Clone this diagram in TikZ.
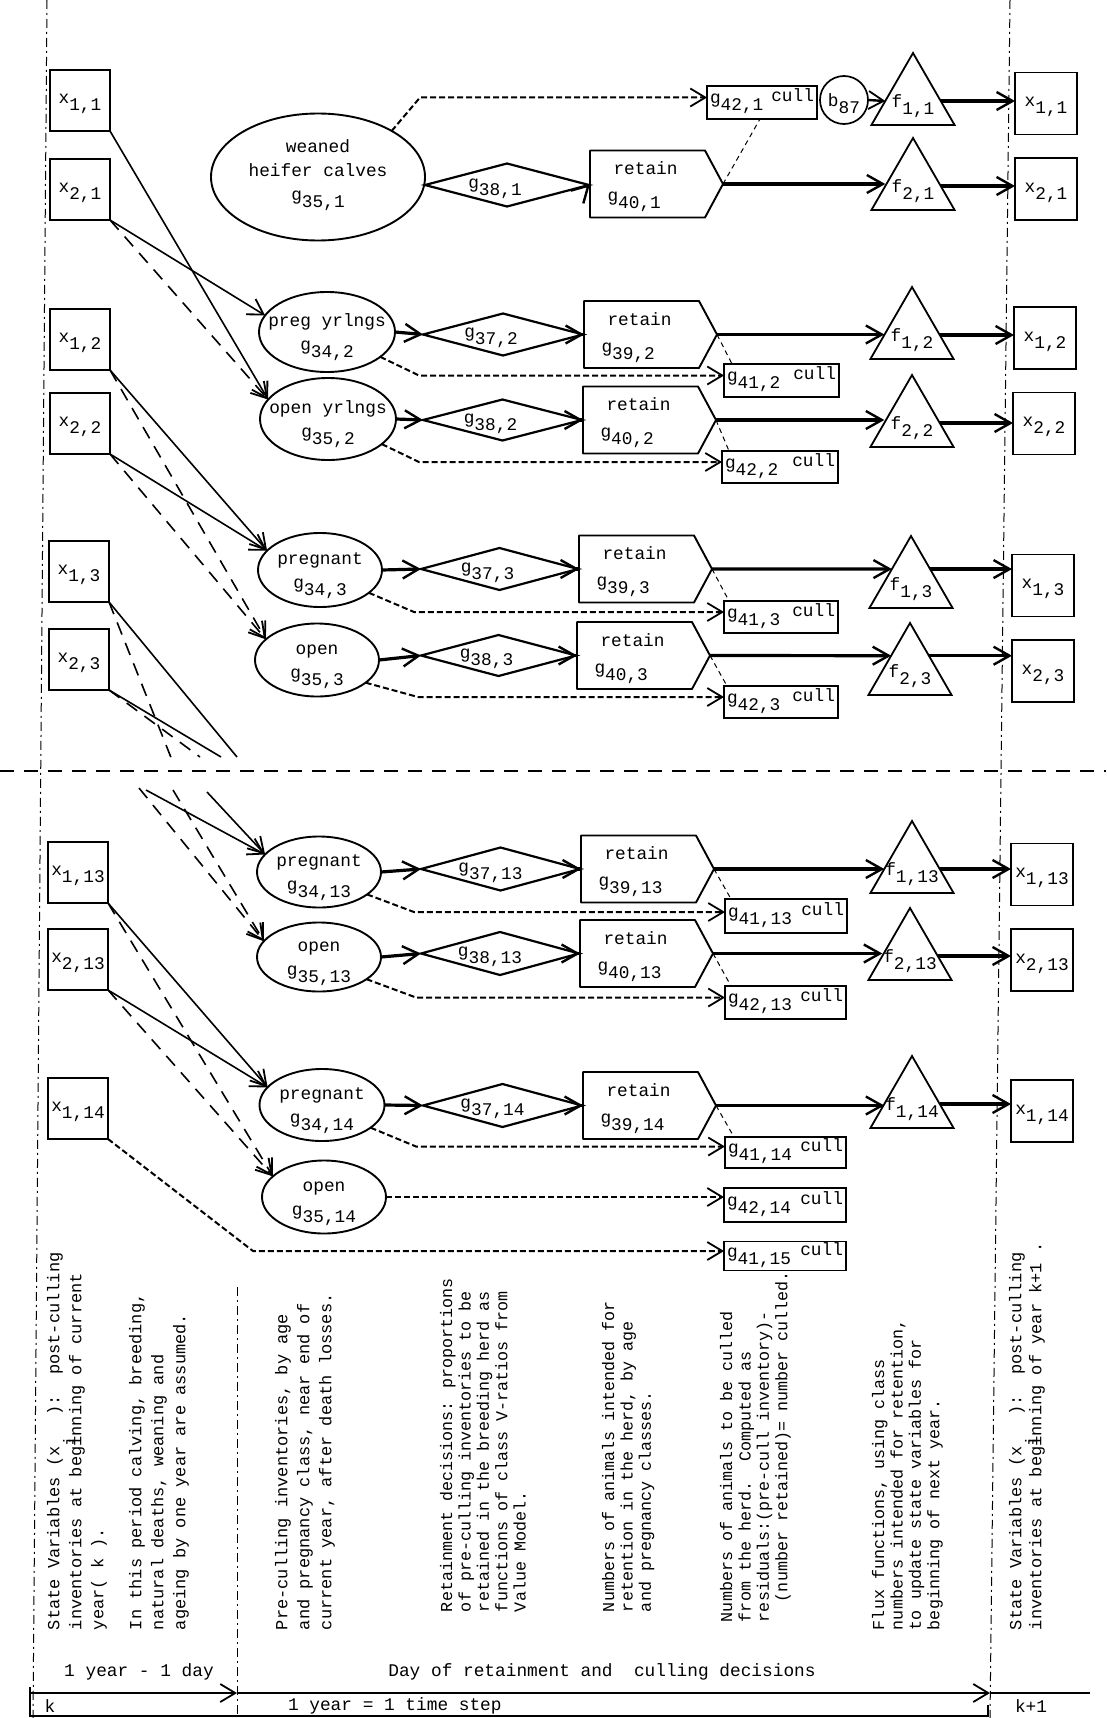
\documentclass[tikz,border=0pt]{standalone}
\usepackage{fontspec}
\setmainfont{Liberation Mono}
\usetikzlibrary{arrows.meta,shapes.geometric,calc}
\newcommand\Lw[1]{\raisebox{-7pt}{#1}}
\newcommand\Cen[2][0pt]{\smash{\makebox[0pt]{\raisebox{#1}{\begin{tabular}{@{}c@{}}#2\end{tabular}}}}}
\newcommand\RetN[4]{%
  \node[ret] (#1) at (#2,#3) {\rule{0pt}{19pt}\hspace*{6pt}retain\\g\Lw{#4}};
  \coordinate (#1P) at ($(#1.east)+(18,0)$);
  \draw[retline] (#1.north west) -- (#1.north east) -- (#1P) -- (#1.south east) -- (#1.south west) -- cycle;}
\begin{document}
\begin{tikzpicture}[x=1pt,y=-1pt,
  font=\fontsize{17.8}{24}\selectfont,
  every node/.style={inner sep=0pt,outer sep=0pt},
  tipb/.style={-{Straight Barb[length=15pt,width=18pt,line width=1.8pt]}},
  xbox/.style={draw,line width=1.7pt,minimum width=60pt,minimum height=61pt},
  ell/.style={ellipse,draw,line width=1.9pt},
  dia/.style={diamond,draw,line width=2.2pt},
  tri/.style={regular polygon,regular polygon sides=3,draw,line width=1.8pt,minimum size=96pt},
  cullb/.style={draw,line width=1.7pt,minimum height=33pt},
  ret/.style={rectangle,minimum width=115pt,minimum height=67pt,text width=80pt,inner xsep=17.5pt,align=left,font=\fontsize{17.8}{27}\selectfont},
  retline/.style={line width=1.9pt,line join=round},
  thk/.style={-{Straight Barb[length=16pt,width=18pt,line width=2.4pt]},line width=3.2pt},
  sarr/.style={tipb,line width=1.6pt},
  sline/.style={line width=1.6pt},
  darr/.style={tipb,line width=1.6pt,dash pattern=on 13pt off 9pt},
  dline/.style={line width=1.6pt,dash pattern=on 13pt off 9pt},
  dcull/.style={tipb,line width=2pt,dash pattern=on 6pt off 3pt},
  tdash/.style={line width=1pt,dash pattern=on 5pt off 4pt},
  vline/.style={line width=1pt,dash pattern=on 9pt off 4pt on 2pt off 4pt},
  hsep/.style={line width=2pt,dash pattern=on 14pt off 10pt},
  vtext/.style={rotate=90,anchor=north west,align=left,font=\fontsize{17}{22}\selectfont},
  vtextb/.style={rotate=90,anchor=north west,align=left,font=\fontsize{16.7}{18.4}\selectfont},
]
\useasboundingbox (0,0) rectangle (1106,1718);
% frame lines
\coordinate (vl1) at (47,0); \coordinate (vl2) at (33,1718);
\coordinate (vr1) at (1010,0); \coordinate (vr2) at (990,1718);
\coordinate (vm1) at (237,1287); \coordinate (vm2) at (237,1716);
\coordinate (hs1) at (0,771); \coordinate (hs2) at (1106,771);
\draw[vline] (vl1) -- (vl2);
\draw[vline] (vr1) -- (vr2);
\draw[vline] (vm1) -- (vm2);
\draw[hsep] (hs1) -- (hs2);

% left state boxes
\node[xbox] (xL11) at (80,100.5) {\Cen[-4pt]{x\Lw{1,1}}};
\node[xbox] (xL21) at (80,189.5) {\Cen[-4pt]{x\Lw{2,1}}};
\node[xbox] (xL12) at (80,339.5) {\Cen[-4pt]{x\Lw{1,2}}};
\node[xbox] (xL22) at (80,423.5) {\Cen[-4pt]{x\Lw{2,2}}};
\node[xbox] (xL13) at (79,571.5) {\Cen[-4pt]{x\Lw{1,3}}};
\node[xbox] (xL23) at (79,659.5) {\Cen[-4pt]{x\Lw{2,3}}};
\node[xbox] (xL113) at (78,872.5) {\Cen[-4pt]{x\Lw{1,13}}};
\node[xbox] (xL213) at (78,959.5) {\Cen[-4pt]{x\Lw{2,13}}};
\node[xbox] (xL114) at (78,1108.5) {\Cen[-4pt]{x\Lw{1,14}}};

% right state boxes
\node[xbox,minimum width=62pt,minimum height=62pt] (xR11) at (1046,103.5) {\Cen[-4pt]{x\Lw{1,1}}};
\node[xbox,minimum width=62pt,minimum height=62pt] (xR21) at (1046,189) {\Cen[-4pt]{x\Lw{2,1}}};
\node[xbox,minimum width=62pt,minimum height=62pt] (xR12) at (1045,338) {\Cen[-4pt]{x\Lw{1,2}}};
\node[xbox,minimum width=62pt,minimum height=62pt] (xR22) at (1044,423.5) {\Cen[-4pt]{x\Lw{2,2}}};
\node[xbox,minimum width=62pt,minimum height=62pt] (xR13) at (1043,585.5) {\Cen[-4pt]{x\Lw{1,3}}};
\node[xbox,minimum width=62pt,minimum height=62pt] (xR23) at (1043,671) {\Cen[-4pt]{x\Lw{2,3}}};
\node[xbox,minimum width=62pt,minimum height=62pt] (xR113) at (1042,874.5) {\Cen[-4pt]{x\Lw{1,13}}};
\node[xbox,minimum width=62pt,minimum height=62pt] (xR213) at (1042,960) {\Cen[-4pt]{x\Lw{2,13}}};
\node[xbox,minimum width=62pt,minimum height=62pt] (xR114) at (1042,1111) {\Cen[-4pt]{x\Lw{1,14}}};

% ellipses
\node[ell,minimum width=214pt,minimum height=127pt] (wh) at (318,177) {\Cen{weaned\\heifer calves\\g\Lw{35,1}}};
\node[ell,minimum width=136pt,minimum height=80pt] (py) at (327,332) {\Cen[-7pt]{preg yrlngs\\g\Lw{34,2}}};
\node[ell,minimum width=136pt,minimum height=82pt] (oy) at (328,419) {\Cen[-7pt]{open yrlngs\\g\Lw{35,2}}};
\node[ell,minimum width=124pt,minimum height=74pt] (p3) at (320,570) {\Cen[-7pt]{pregnant\\g\Lw{34,3}}};
\node[ell,minimum width=124pt,minimum height=73pt] (o3) at (317,660) {\Cen[-7pt]{open\\g\Lw{35,3}}};
\node[ell,minimum width=124pt,minimum height=71pt] (p13) at (319,872) {\Cen[-7pt]{pregnant\\g\Lw{34,13}}};
\node[ell,minimum width=124pt,minimum height=69pt] (o13) at (319,957) {\Cen[-7pt]{open\\g\Lw{35,13}}};
\node[ell,minimum width=125pt,minimum height=72pt] (p14) at (322,1105) {\Cen[-7pt]{pregnant\\g\Lw{34,14}}};
\node[ell,minimum width=124pt,minimum height=73pt] (o14) at (324,1197) {\Cen[-7pt]{open\\g\Lw{35,14}}};

% diamonds
\node[dia,minimum width=164pt,minimum height=43pt] (d1) at (507,185) {\Cen[-4pt]{g\Lw{38,1}\hspace*{24pt}}};
\node[dia,minimum width=160pt,minimum height=42pt] (d2a) at (503,334.5) {\Cen[-4pt]{g\Lw{37,2}\hspace*{24pt}}};
\node[dia,minimum width=159pt,minimum height=41pt] (d2b) at (502.5,420) {\Cen[-4pt]{g\Lw{38,2}\hspace*{24pt}}};
\node[dia,minimum width=157pt,minimum height=42pt] (d3a) at (499.5,569) {\Cen[-4pt]{g\Lw{37,3}\hspace*{24pt}}};
\node[dia,minimum width=155pt,minimum height=41pt] (d3b) at (498.5,655.5) {\Cen[-4pt]{g\Lw{38,3}\hspace*{24pt}}};
\node[dia,minimum width=159pt,minimum height=43pt] (d13a) at (500.5,869) {\Cen[-4pt]{g\Lw{37,13}\hspace*{20pt}}};
\node[dia,minimum width=158pt,minimum height=43pt] (d13b) at (500,953.5) {\Cen[-4pt]{g\Lw{38,13}\hspace*{20pt}}};
\node[dia,minimum width=159pt,minimum height=43pt] (d14a) at (502.5,1105.5) {\Cen[-4pt]{g\Lw{37,14}\hspace*{20pt}}};

% retain boxes
\RetN{rB}{647.5}{184}{40,1}
\RetN{r2a}{641.5}{334.5}{39,2}
\RetN{r2b}{640.5}{420}{40,2}
\RetN{r3a}{636.5}{569}{39,3}
\RetN{r3b}{634.5}{655.5}{40,3}
\RetN{r13a}{638.5}{869}{39,13}
\RetN{r13b}{637.5}{953.5}{40,13}
\RetN{r14a}{640.5}{1105.5}{39,14}

% flux triangles
\node[tri] (f11) at (913,101) {\Cen[-7pt]{f\Lw{1,1}}};
\node[tri] (f21) at (913,186) {\Cen[-7pt]{f\Lw{2,1}}};
\node[tri] (f12) at (912,335) {\Cen[-7pt]{f\Lw{1,2}}};
\node[tri] (f22) at (912,423) {\Cen[-7pt]{f\Lw{2,2}}};
\node[tri] (f13) at (911,584) {\Cen[-7pt]{f\Lw{1,3}}};
\node[tri] (f23) at (910,671) {\Cen[-7pt]{f\Lw{2,3}}};
\node[tri] (f113) at (912,869) {\Cen[-7pt]{f\Lw{1,13}}};
\node[tri] (f213) at (910,956) {\Cen[-7pt]{f\Lw{2,13}}};
\node[tri] (f114) at (912,1104) {\Cen[-7pt]{f\Lw{1,14}}};

% cull boxes
\node[cullb,minimum width=110pt] (c421) at (762,102.5) {\Cen[-2pt]{\makebox[104pt]{g\Lw{42,1}\hfill\raisebox{2pt}{cull}}}};
\node[cullb,minimum width=115pt] (c412) at (781.5,380.5) {\Cen[-2pt]{\makebox[109pt]{g\Lw{41,2}\hfill\raisebox{2pt}{cull}}}};
\node[cullb,minimum width=116pt,minimum height=32pt] (c422) at (780,467) {\Cen[-2pt]{\makebox[110pt]{g\Lw{42,2}\hfill\raisebox{2pt}{cull}}}};
\node[cullb,minimum width=114pt,minimum height=32pt] (c413) at (781,617) {\Cen[-2pt]{\makebox[108pt]{g\Lw{41,3}\hfill\raisebox{2pt}{cull}}}};
\node[cullb,minimum width=114pt,minimum height=32pt] (c423) at (781,702) {\Cen[-2pt]{\makebox[108pt]{g\Lw{42,3}\hfill\raisebox{2pt}{cull}}}};
\node[cullb,minimum width=122pt,minimum height=34pt] (c4113) at (786,916) {\Cen[-2pt]{\makebox[116pt]{g\Lw{41,13}\hfill\raisebox{2pt}{cull}}}};
\node[cullb,minimum width=121pt] (c4213) at (785.5,1002.5) {\Cen[-2pt]{\makebox[115pt]{g\Lw{42,13}\hfill\raisebox{2pt}{cull}}}};
\node[cullb,minimum width=121pt,minimum height=31pt] (c4114) at (785.5,1152.5) {\Cen[-2pt]{\makebox[115pt]{g\Lw{41,14}\hfill\raisebox{2pt}{cull}}}};
\node[cullb,minimum width=122pt,minimum height=34pt] (c4214) at (785,1205) {\Cen[-2pt]{\makebox[116pt]{g\Lw{42,14}\hfill\raisebox{2pt}{cull}}}};
\node[cullb,minimum width=122pt,minimum height=29pt] (c4115) at (785,1256) {\Cen[-2pt]{\makebox[116pt]{g\Lw{41,15}\hfill\raisebox{2pt}{cull}}}};

% b87
\node[circle,draw,line width=1.7pt,minimum size=48pt] (b87) at (844,100) {\Cen[-6pt]{b\Lw{87}}};

% row A
\draw[dcull] (wh.32) -- ($(c421.west)+(-287,-5)$) -- ($(c421.west)+(0,-5)$);
\draw[sarr,line width=2.4pt] (b87.east) -- (f11.180);
\draw[thk] (f11.0) -- (f11.0 -| xR11.west);
% row B
\draw[thk] (d1.east) -- (rB.west);
\draw[thk] (rBP) -- (rBP -| f21.180);
\draw[thk] (f21.0) -- (f21.0 -| xR21.west);
\draw[tdash] (rBP) -- ($(c421.south west)+(53,0)$);
% row 2a
\draw[thk] (py.east) -- (d2a.west);
\draw[thk] (d2a.east) -- (r2a.west);
\draw[thk] (r2aP) -- (r2aP -| f12.180);
\draw[thk] (f12.0) -- (f12.0 -| xR12.west);
\draw[dcull] (py.-25) -- ($(c412.west)+(-305,-5)$) -- ($(c412.west)+(0,-5)$);
\draw[tdash] (r2aP) -- ($(c412.north west)+(8,0)$);
% row 2b
\draw[thk] (oy.east) -- (d2b.west);
\draw[thk] (d2b.east) -- (r2b.west);
\draw[thk] (r2bP) -- (r2bP -| f22.180);
\draw[thk] (f22.0) -- (f22.0 -| xR22.west);
\draw[dcull] (oy.-25) -- ($(c422.west)+(-303,-5)$) -- ($(c422.west)+(0,-5)$);
\draw[tdash] (r2bP) -- ($(c422.north west)+(7,0)$);
% row 3a
\draw[thk] (p3.east) -- (d3a.west);
\draw[thk] (d3a.east) -- (r3a.west);
\draw[thk] (r3aP) -- (f13.142);
\draw[thk] (f13.38) -- (f13.38 -| xR13.west);
\draw[dcull] (p3.-25) -- ($(c413.west)+(-310,-5)$) -- ($(c413.west)+(0,-5)$);
\draw[tdash] (r3aP) -- ($(c413.north west)+(5,0)$);
% row 3b
\draw[thk] (o3.east) -- (d3b.west);
\draw[thk] (d3b.east) -- (r3b.west);
\draw[thk] (r3bP) -- (f23.141);
\draw[thk] (f23.39) -- (f23.39 -| xR23.west);
\draw[dcull] (o3.-25) -- ($(c423.west)+(-306,-5)$) -- ($(c423.west)+(0,-5)$);
\draw[tdash] (r3bP) -- ($(c423.north west)+(3,0)$);
% row 13a
\draw[thk] (p13.east) -- (d13a.west);
\draw[thk] (d13a.east) -- (r13a.west);
\draw[thk] (r13aP) -- (r13aP -| f113.180);
\draw[thk] (f113.0) -- (f113.0 -| xR113.west);
\draw[dcull] (p13.-25) -- ($(c4113.west)+(-311,-4)$) -- ($(c4113.west)+(0,-4)$);
\draw[tdash] (r13aP) -- ($(c4113.north west)+(6,0)$);
% row 13b
\draw[thk] (o13.east) -- (d13b.west);
\draw[thk] (d13b.east) -- (r13b.west);
\draw[thk] (r13bP) -- (r13bP -| f213.180);
\draw[thk] (f213.0) -- (f213.0 -| xR213.west);
\draw[dcull] (o13.-25) -- ($(c4213.west)+(-309,-5)$) -- ($(c4213.west)+(0,-5)$);
\draw[tdash] (r13bP) -- ($(c4213.north west)+(6,0)$);
% row 14a
\draw[thk] (p14.east) -- (d14a.west);
\draw[thk] (d14a.east) -- (r14a.west);
\draw[thk] (r14aP) -- (r14aP -| f114.180);
\draw[thk] (f114.0) -- (f114.0 -| xR114.west);
\draw[dcull] (p14.-25) -- ($(c4114.west)+(-309,-6)$) -- ($(c4114.west)+(0,-6)$);
\draw[tdash] (r14aP) -- ($(c4114.north west)+(9,0)$);
% row 14b and 15
\draw[dcull] (o14.east) -- (o14.east -| c4214.west);
\draw[dcull] (xL114.south east) -- ($(c4115.west)+(-471,-5)$) -- ($(c4115.west)+(0,-5)$);

% ageing connectors
\draw[sarr] (xL11.south east) -- (oy.162);
\draw[sarr] (xL21.south east) -- (py.165);
\draw[darr] (xL21.south east) -- (oy.162);
\draw[sarr] (xL12.south east) -- (p3.160);
\draw[darr] (xL12.south east) -- (o3.158);
\draw[sarr] (xL22.south east) -- (p3.160);
\draw[darr] (xL22.south east) -- (o3.158);
\coordinate (ub1) at (237,757); \coordinate (ub2) at (172,760);
\coordinate (ub3) at (221,757); \coordinate (ub4) at (200,757);
\draw[sline] (xL13.south east) -- (ub1);
\draw[dline] (xL13.south east) -- (ub2);
\draw[sline] (xL23.south east) -- (ub3);
\draw[dline] (xL23.south east) -- (ub4);
\coordinate (lb1) at (146,790); \coordinate (lb2) at (207,792);
\coordinate (lb3) at (139,788); \coordinate (lb4) at (173,790);
\draw[sarr] (lb1) -- (p13.162);
\draw[sarr] (lb2) -- (p13.162);
\draw[darr] (lb3) -- (o13.164);
\draw[darr] (lb4) -- (o13.164);
\draw[sarr] (xL113.south east) -- (p14.162);
\draw[darr] (xL113.south east) -- (o14.158);
\draw[sarr] (xL213.south east) -- (p14.162);
\draw[darr] (xL213.south east) -- (o14.158);

% time axis
\coordinate (ta0) at (30,1693); \coordinate (ta1) at (237,1693);
\coordinate (ta2) at (990,1693); \coordinate (ta3) at (1090,1693);
\draw[sarr,line width=2pt] (ta0) -- (ta1);
\draw[sarr,line width=2pt] (ta1) -- (ta2);
\draw[line width=2pt] (ta2) -- (ta3);
\coordinate (bb0) at (30,1687); \coordinate (bb1) at (30,1716);
\coordinate (bb2) at (988,1716); \coordinate (bb3) at (988,1705);
\draw[line width=2pt] (bb0) -- (bb1) -- (bb2) -- (bb3);
\node (t1) at (139,1672) {1 year - 1 day};
\node (t2) at (602,1672) {Day of retainment and\ \ culling decisions};
\node (t3) at (50,1706) {k};
\node[anchor=west] (t4) at (288,1706) {1 year = 1 time step};
\node[anchor=west] (t5) at (1015,1706) {k+1};

% rotated explanations
\node[vtext] (c1) at (47,1630) {State Variables (x\raisebox{-16pt}[0pt][0pt]{i}\ \ ):\ \ post-culling\\inventories at beginning of current\\year( k ).};
\node[vtext] (c2) at (129,1630) {In this period calving, breeding,\\natural deaths, weaning and\\ageing by one year are assumed.};
\node[vtext] (c3) at (275,1630) {Pre-culling inventories, by age\\and pregnancy class, near end of\\current year, after death losses.};
\node[vtextb] (c4) at (440,1612) {Retainment decisions: proportions\\of pre-culling inventories to be\\retained in the breeding herd as\\functions of class V-ratios from\\Value Model.};
\node[vtextb] (c5) at (602,1612) {Numbers of animals intended for\\retention in the herd, by age\\and pregnancy classes.};
\node[vtextb] (c6) at (720,1622) {Numbers of animals to be culled\\from the herd.\ \ Computed as\\residuals:(pre-cull inventory)-\\\hspace*{20pt}(number retained)= number culled.};
\node[vtextb] (c7) at (872,1630) {Flux functions, using class\\numbers intended for retention,\\to update state variables for\\beginning of next year.};
\node[vtext,font=\fontsize{17}{20}\selectfont] (c8) at (1009,1630) {State Variables (x\raisebox{-16pt}[0pt][0pt]{i}\ \ ):\ \ post-culling\\inventories at beginning of year k+1 .};
\end{tikzpicture}
\end{document}
